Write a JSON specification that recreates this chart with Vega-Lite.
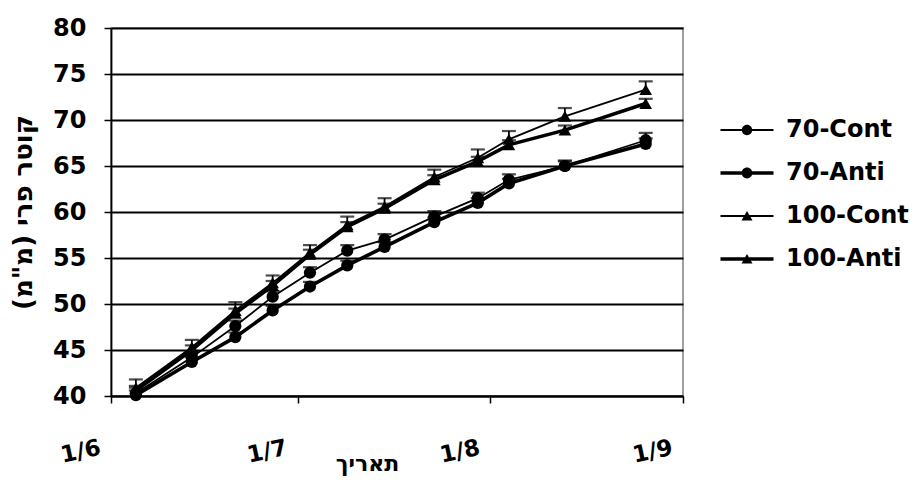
{
  "$schema": "https://vega.github.io/schema/vega-lite/v6.json",
  "width": 572,
  "height": 368,
  "autosize": {"type": "none"},
  "padding": {"left": 111, "top": 28, "right": 238, "bottom": 86},
  "background": "white",
  "config": {
    "view": {"stroke": "#808080", "strokeWidth": 1.5},
    "font": "DejaVu Sans",
    "axis": {
      "labelFont": "DejaVu Sans",
      "labelFontWeight": "bold",
      "labelColor": "black",
      "titleFont": "DejaVu Sans",
      "titleFontWeight": "bold",
      "titleColor": "black",
      "domainColor": "black",
      "domainWidth": 1.8,
      "tickColor": "black",
      "tickWidth": 1.5,
      "tickSize": 7
    },
    "legend": {
      "labelFont": "DejaVu Sans",
      "labelFontWeight": "bold",
      "labelColor": "black"
    }
  },
  "data": {
    "values": [
      {"date": "2009-06-05", "series": "70-Cont", "value": 40.3, "hi": 40.9},
      {"date": "2009-06-14", "series": "70-Cont", "value": 44.2, "hi": 44.8},
      {"date": "2009-06-21", "series": "70-Cont", "value": 47.6, "hi": 48.2},
      {"date": "2009-06-27", "series": "70-Cont", "value": 50.8, "hi": 51.4},
      {"date": "2009-07-03", "series": "70-Cont", "value": 53.4, "hi": 54.0},
      {"date": "2009-07-09", "series": "70-Cont", "value": 55.8, "hi": 56.4},
      {"date": "2009-07-15", "series": "70-Cont", "value": 57.0, "hi": 57.6},
      {"date": "2009-07-23", "series": "70-Cont", "value": 59.5, "hi": 60.1},
      {"date": "2009-07-30", "series": "70-Cont", "value": 61.5, "hi": 62.1},
      {"date": "2009-08-04", "series": "70-Cont", "value": 63.5, "hi": 64.1},
      {"date": "2009-08-13", "series": "70-Cont", "value": 65.0, "hi": 65.6},
      {"date": "2009-08-26", "series": "70-Cont", "value": 67.8, "hi": 68.6},
      {"date": "2009-06-05", "series": "70-Anti", "value": 40.1, "hi": 40.6},
      {"date": "2009-06-14", "series": "70-Anti", "value": 43.7, "hi": 44.2},
      {"date": "2009-06-21", "series": "70-Anti", "value": 46.4, "hi": 46.9},
      {"date": "2009-06-27", "series": "70-Anti", "value": 49.3, "hi": 49.8},
      {"date": "2009-07-03", "series": "70-Anti", "value": 51.9, "hi": 52.4},
      {"date": "2009-07-09", "series": "70-Anti", "value": 54.2, "hi": 54.7},
      {"date": "2009-07-15", "series": "70-Anti", "value": 56.2, "hi": 56.7},
      {"date": "2009-07-23", "series": "70-Anti", "value": 58.9, "hi": 59.4},
      {"date": "2009-07-30", "series": "70-Anti", "value": 61.0, "hi": 61.5},
      {"date": "2009-08-04", "series": "70-Anti", "value": 63.1, "hi": 63.6},
      {"date": "2009-08-13", "series": "70-Anti", "value": 65.0, "hi": 65.5},
      {"date": "2009-08-26", "series": "70-Anti", "value": 67.4, "hi": 68.0},
      {"date": "2009-06-05", "series": "100-Cont", "value": 40.9, "hi": 41.8},
      {"date": "2009-06-14", "series": "100-Cont", "value": 45.3, "hi": 46.1},
      {"date": "2009-06-21", "series": "100-Cont", "value": 49.3, "hi": 50.2},
      {"date": "2009-06-27", "series": "100-Cont", "value": 52.3, "hi": 53.1},
      {"date": "2009-07-03", "series": "100-Cont", "value": 55.6, "hi": 56.4},
      {"date": "2009-07-09", "series": "100-Cont", "value": 58.6, "hi": 59.5},
      {"date": "2009-07-15", "series": "100-Cont", "value": 60.6, "hi": 61.5},
      {"date": "2009-07-23", "series": "100-Cont", "value": 63.8, "hi": 64.6},
      {"date": "2009-07-30", "series": "100-Cont", "value": 65.9, "hi": 66.8},
      {"date": "2009-08-04", "series": "100-Cont", "value": 67.9, "hi": 68.8},
      {"date": "2009-08-13", "series": "100-Cont", "value": 70.4, "hi": 71.3},
      {"date": "2009-08-26", "series": "100-Cont", "value": 73.3, "hi": 74.2},
      {"date": "2009-06-05", "series": "100-Anti", "value": 40.6, "hi": 41.1},
      {"date": "2009-06-14", "series": "100-Anti", "value": 45.0, "hi": 45.5},
      {"date": "2009-06-21", "series": "100-Anti", "value": 49.0, "hi": 49.5},
      {"date": "2009-06-27", "series": "100-Anti", "value": 52.0, "hi": 52.5},
      {"date": "2009-07-03", "series": "100-Anti", "value": 55.4, "hi": 55.9},
      {"date": "2009-07-09", "series": "100-Anti", "value": 58.4, "hi": 58.9},
      {"date": "2009-07-15", "series": "100-Anti", "value": 60.4, "hi": 60.9},
      {"date": "2009-07-23", "series": "100-Anti", "value": 63.5, "hi": 64.0},
      {"date": "2009-07-30", "series": "100-Anti", "value": 65.5, "hi": 66.0},
      {"date": "2009-08-04", "series": "100-Anti", "value": 67.3, "hi": 67.8},
      {"date": "2009-08-13", "series": "100-Anti", "value": 68.9, "hi": 69.4},
      {"date": "2009-08-26", "series": "100-Anti", "value": 71.8, "hi": 72.3}
    ]
  },
  "encoding": {
    "x": {
      "field": "date",
      "type": "temporal",
      "scale": {
        "type": "utc",
        "domain": [
          {"year": 2009, "month": 6, "date": 1, "utc": true},
          {"year": 2009, "month": 9, "date": 1, "utc": true}
        ]
      },
      "axis": {
        "title": "תאריך",
        "titleFontSize": 22,
        "titleX": 256,
        "titleY": 74,
        "titleAlign": "center",
        "titleBaseline": "alphabetic",
        "grid": false,
        "values": [
          {"year": 2009, "month": 6, "date": 1, "utc": true},
          {"year": 2009, "month": 7, "date": 1, "utc": true},
          {"year": 2009, "month": 8, "date": 1, "utc": true},
          {"year": 2009, "month": 9, "date": 1, "utc": true}
        ],
        "format": "%-d/%-m",
        "labelFontSize": 23,
        "labelAngle": -12,
        "labelAlign": "right",
        "labelBaseline": "middle",
        "labelPadding": 44,
        "labelOffset": -11,
        "labelOverlap": false,
        "labelFlush": false
      }
    },
    "y": {
      "field": "value",
      "type": "quantitative",
      "scale": {"domain": [40, 80], "nice": false, "zero": false},
      "axis": {
        "title": "‏קוטר פרי (מ\"מ)‏",
        "titleFontSize": 26,
        "titleX": -88,
        "titleY": 184,
        "titleAngle": -90,
        "titleAlign": "center",
        "titleBaseline": "middle",
        "values": [40, 45, 50, 55, 60, 65, 70, 75, 80],
        "labelFontSize": 24,
        "labelPadding": 18,
        "grid": true,
        "gridColor": "black",
        "gridWidth": 1.8,
        "gridOpacity": 1
      }
    }
  },
  "layer": [
    {
      "mark": {"type": "rule", "color": "black", "strokeWidth": 1.8},
      "encoding": {"y2": {"field": "hi"}}
    },
    {
      "mark": {"type": "tick", "orient": "horizontal", "color": "black", "size": 14, "thickness": 2.2},
      "encoding": {"y": {"field": "hi", "type": "quantitative"}}
    },
    {
      "transform": [{"filter": "indexof(datum.series, 'Cont') >= 0"}],
      "mark": {"type": "line", "color": "black", "strokeWidth": 1.8},
      "encoding": {"detail": {"field": "series"}}
    },
    {
      "transform": [{"filter": "indexof(datum.series, 'Anti') >= 0"}],
      "mark": {"type": "line", "color": "black", "strokeWidth": 3.6},
      "encoding": {"detail": {"field": "series"}}
    },
    {
      "transform": [{"filter": "indexof(datum.series, '70-') == 0"}],
      "mark": {"type": "point", "shape": "circle", "filled": true, "color": "black", "opacity": 1, "size": 150},
      "encoding": {}
    },
    {
      "transform": [{"filter": "indexof(datum.series, '100-') == 0"}],
      "mark": {"type": "point", "shape": "triangle-up", "filled": true, "color": "black", "opacity": 1, "size": 160},
      "encoding": {}
    },
    {
      "mark": {"type": "point", "filled": true, "color": "black", "opacity": 0, "size": 400},
      "encoding": {
        "shape": {
          "field": "series",
          "type": "nominal",
          "scale": {
            "domain": ["70-Cont", "70-Anti", "100-Cont", "100-Anti"],
            "range": [
              "M-2.65,-0.09H2.65V0.09H-2.65Z M-0.52,0A0.52,0.52 0 1,1 0.52,0A0.52,0.52 0 1,1 -0.52,0Z",
              "M-2.65,-0.18H2.65V0.18H-2.65Z M-0.54,0A0.54,0.54 0 1,1 0.54,0A0.54,0.54 0 1,1 -0.54,0Z",
              "M-2.65,-0.09H2.65V0.09H-2.65Z M-0.55,0.45L0,-0.5L0.55,0.45Z",
              "M-2.65,-0.18H2.65V0.18H-2.65Z M-0.55,0.45L0,-0.5L0.55,0.45Z"
            ]
          },
          "legend": {
            "title": null,
            "orient": "none",
            "legendX": 624,
            "legendY": 90,
            "padding": 0,
            "symbolSize": 400,
            "symbolOpacity": 1,
            "symbolFillColor": "black",
            "symbolStrokeWidth": 0,
            "labelFontSize": 24,
            "labelOffset": 27,
            "rowPadding": 19,
            "labelBaseline": "middle"
          }
        }
      }
    }
  ]
}
